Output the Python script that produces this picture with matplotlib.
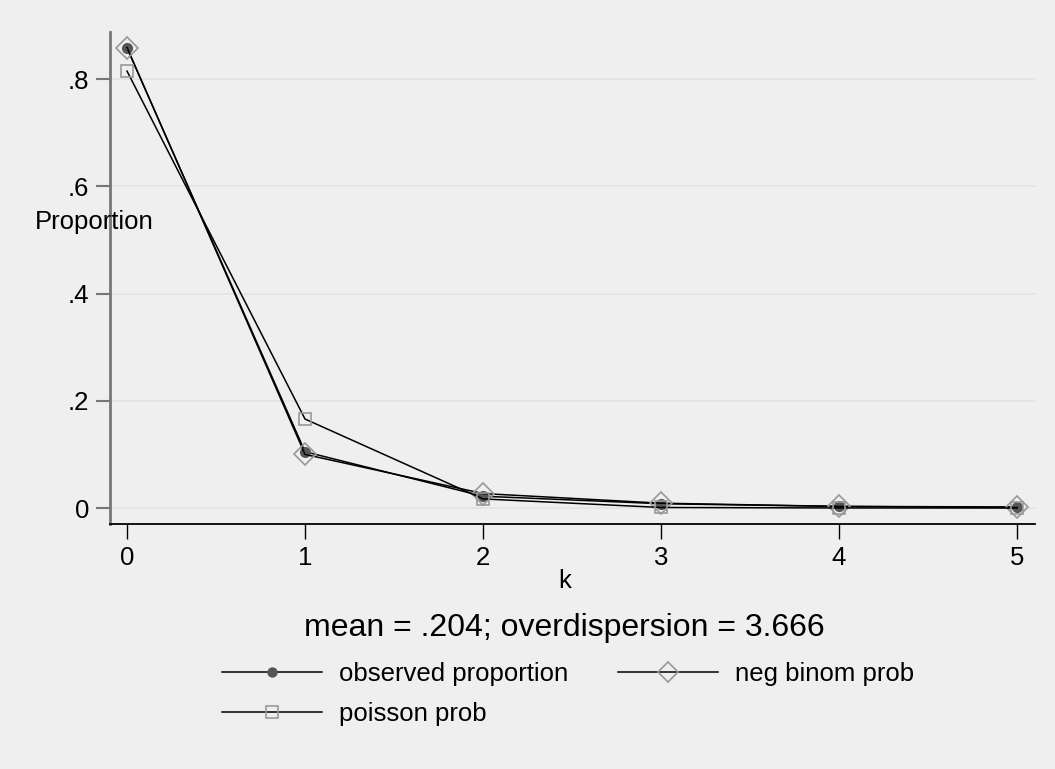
import numpy as np
import matplotlib.pyplot as plt

plt.rcParams['font.family'] = ['Liberation Sans', 'DejaVu Sans']

# данные
k = [0, 1, 2, 3, 4, 5]
observed = [0.858, 0.105, 0.022, 0.008, 0.003, 0.002]
negbin = [0.859, 0.100, 0.027, 0.009, 0.003, 0.001]
poisson = [0.815, 0.166, 0.017, 0.001, 0.0001, 0.0]
yticks = [0, 0.2, 0.4, 0.6, 0.8]
ytick_labels = ['0', '.2', '.4', '.6', '.8']

bg = '#efefef'
fig = plt.figure(figsize=(10.55, 7.69), dpi=100, facecolor=bg)
ax = fig.add_axes([0.1043, 0.3186, 0.8767, 0.6398], facecolor=bg)

l1, = ax.plot(k, observed, color='black', lw=1.1, marker='o', ms=7,
              mfc='#555555', mec='#555555', label='observed proportion', zorder=3)
l2, = ax.plot(k, negbin, color='black', lw=1.1, marker='D', ms=11.5,
              mfc='none', mec='#999999', mew=1.2, label='neg binom prob', zorder=3)
l3, = ax.plot(k, poisson, color='black', lw=1.1, marker='s', ms=8.8,
              mfc='none', mec='#999999', mew=1.2, label='poisson prob', zorder=3)

ax.set_xlim(-0.0955, 5.101)
ax.set_ylim(-0.0298, 0.888)
ax.set_xticks(k)
ax.set_yticks(yticks)
ax.set_yticklabels(ytick_labels)
ax.grid(axis='y', color='#e4e4e4', lw=1.2)
ax.set_axisbelow(True)

for s in ['top', 'right']:
    ax.spines[s].set_visible(False)
ax.spines['left'].set_color('#777777')
ax.spines['left'].set_linewidth(2)
ax.spines['bottom'].set_color('black')
ax.spines['bottom'].set_linewidth(1.3)
ax.tick_params(axis='y', length=10, width=1.5, color='#777777', labelsize=18.5, pad=5)
ax.tick_params(axis='x', length=11, width=1, color='black', labelsize=18.5, pad=5)

fig.text(0.033, 0.711, 'Proportion', fontsize=18.5, va='center', ha='left')
fig.text(0.535, 0.245, 'k', fontsize=18.5, ha='center', va='center')
fig.text(0.535, 0.184, 'mean = .204; overdispersion = 3.666', fontsize=23,
         ha='center', va='center')

fig.legend([l1, l3, l2], ['observed proportion', 'poisson prob', 'neg binom prob'],
           loc='upper left', bbox_to_anchor=(0.2003, 0.153), ncol=2, frameon=False,
           fontsize=18.5, handlelength=3.9, handletextpad=0.66, columnspacing=1.95,
           labelspacing=0.62, borderaxespad=0, markerscale=0.92)

fig.savefig('out.png', dpi=100, facecolor=bg)
